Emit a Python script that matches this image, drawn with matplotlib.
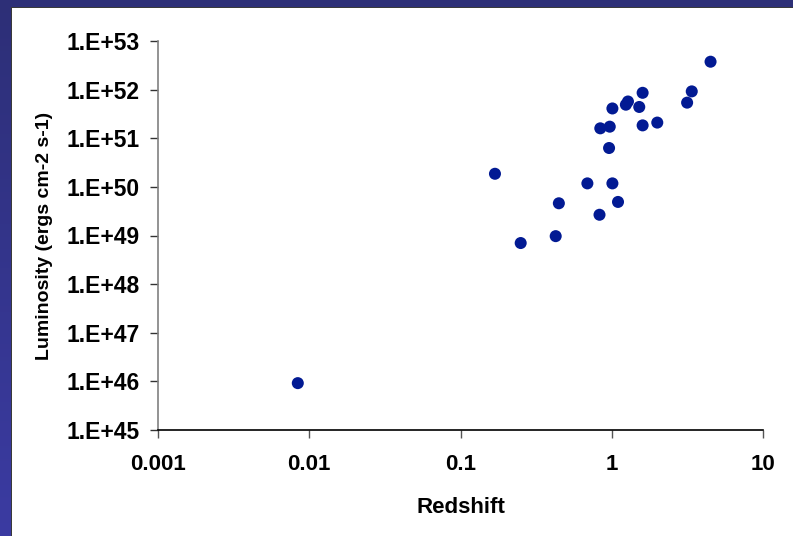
import numpy as np
import matplotlib
matplotlib.use("Agg")
import matplotlib.pyplot as plt
from matplotlib.patches import Rectangle
from matplotlib.ticker import FixedLocator, NullLocator

plt.rcParams['font.family'] = ['Liberation Sans', 'DejaVu Sans']

# Gamma-ray burst sample: redshift vs. luminosity
redshift = [4.50, 3.38, 3.15, 1.60, 1.28, 1.24, 1.52, 1.01, 0.84, 0.97,
            1.60, 2.00, 0.96, 0.169, 0.69, 1.01, 0.447, 1.10, 0.83, 0.426,
            0.25, 0.0084]
luminosity = [3.75e52, 9.2e51, 5.4e51, 8.6e51, 5.7e51, 4.9e51, 4.4e51, 4.1e51,
              1.6e51, 1.73e51, 1.84e51, 2.1e51, 6.3e50, 1.86e50, 1.18e50,
              1.18e50, 4.6e49, 4.9e49, 2.67e49, 9.7e48, 7.0e48, 9.2e45]

x_ticks = [0.001, 0.01, 0.1, 1, 10]
x_tick_labels = ["0.001", "0.01", "0.1", "1", "10"]
y_ticks = [10.0 ** e for e in range(45, 54)]
y_tick_labels = ["1.E+%d" % e for e in range(45, 54)]

W, H = 793, 536
fig = plt.figure(figsize=(W / 100, H / 100), dpi=100)

# Slide-style blue backdrop with a white panel
bg = fig.add_axes([0, 0, 1, 1], zorder=-10)
grad = np.linspace(0, 1, 256).reshape(-1, 1)
top = np.array([0x2D, 0x2F, 0x77]) / 255
bot = np.array([0x3B, 0x3B, 0xA2]) / 255
img = top + (bot - top) * grad[..., None]
bg.imshow(img.reshape(256, 1, 3), aspect='auto', extent=[0, 1, 0, 1], origin='upper')
bg.set_xlim(0, 1)
bg.set_ylim(0, 1)
bg.axis('off')
px, py = 12 / W, 8 / H
bg.add_patch(Rectangle((px - 1.5 / W, 0), 1, 1 - py + 1.5 / H, color='#3a3a3a', lw=0))
bg.add_patch(Rectangle((px, 0), 1, 1 - py, color='white', lw=0))

ax = fig.add_axes([158 / W, 1 - 430 / H, (763 - 158) / W, (430 - 41) / H])
ax.scatter(redshift, luminosity, s=75, color='#021A93', edgecolors='none', zorder=3)
ax.set_xscale('log')
ax.set_yscale('log')
ax.set_xlim(0.001, 10)
ax.set_ylim(1e45, 1e53)

ax.xaxis.set_major_locator(FixedLocator(x_ticks))
ax.xaxis.set_minor_locator(NullLocator())
ax.yaxis.set_major_locator(FixedLocator(y_ticks))
ax.yaxis.set_minor_locator(NullLocator())
ax.set_xticks(x_ticks, x_tick_labels)
ax.set_yticks(y_ticks, y_tick_labels)

for s in ('top', 'right'):
    ax.spines[s].set_visible(False)
ax.spines['left'].set_color('#808080')
ax.spines['left'].set_linewidth(1.2)
ax.spines['bottom'].set_color('black')
ax.spines['bottom'].set_linewidth(1.2)

ax.tick_params(axis='y', direction='out', length=6, width=1, color='#333333',
               pad=7, labelsize=16.5)
ax.tick_params(axis='x', direction='out', length=6, width=1, color='#555555',
               pad=11, labelsize=16)
for lab in ax.get_xticklabels() + ax.get_yticklabels():
    lab.set_fontweight('bold')

ax.set_xlabel('Redshift', fontsize=16, fontweight='bold', labelpad=16)
ax.set_ylabel('Luminosity (ergs cm-2 s-1)', fontsize=14, fontweight='bold', labelpad=10)

fig.savefig('out.png', dpi=100)
